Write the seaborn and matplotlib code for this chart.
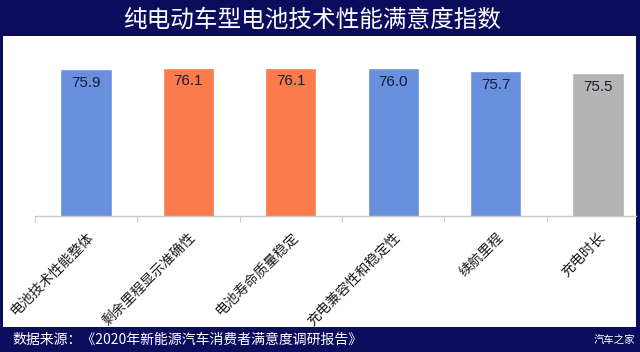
import matplotlib
matplotlib.use("Agg")
import matplotlib.pyplot as plt
from matplotlib.patches import Rectangle
import seaborn as sns
import pandas as pd

categories = ["电池技术性能整体", "剩余里程显示准确性", "电池寿命质量稳定",
              "充电兼容性和稳定性", "续航里程", "充电时长"]
scores = [75.9, 76.1, 76.1, 76.0, 75.7, 75.5]
bar_colors = ["#6890dd", "#fb7b4b", "#fb7b4b", "#6890dd", "#6890dd", "#b4b4b4"]

title = "纯电动车型电池技术性能满意度指数"
source = "数据来源：《2020年新能源汽车消费者满意度调研报告》"
watermark = "汽车之家"

sns.set_theme(style="white")
plt.rcParams["font.family"] = ["Noto Sans CJK SC", "DejaVu Sans"]

navy = "#0c0c5c"
W, H = 640, 352
fig = plt.figure(figsize=(6.4, 3.52), dpi=100, facecolor=navy)

# white panel behind the chart
fig.patches.append(Rectangle((3 / W, 1 - 327 / H), 633 / W, 291 / H,
                             transform=fig.transFigure, facecolor="white",
                             edgecolor="none", zorder=-5))

left, right = 34.8 / W, 636 / W
bottom, top = 1 - 216 / H, 1 - 50 / H
ax = fig.add_axes([left, bottom, right - left, top - bottom])
ax.set_zorder(2)
ax.patch.set_alpha(0)

df = pd.DataFrame({"item": categories, "score": scores})
sns.barplot(data=df, x="item", y="score", hue="item", palette=bar_colors,
            width=0.5, saturation=1, legend=False, ax=ax)

ax.set_xlim(-0.5, -0.5 + (636 - 34.8) / 102.4)
ax.set_ylim(60, 78)
ax.set_xlabel("")
ax.set_ylabel("")
ax.set_yticks([])
for s in ["left", "top", "right"]:
    ax.spines[s].set_visible(False)
ax.spines["bottom"].set_color("#c8c8c8")
ax.spines["bottom"].set_linewidth(1)

ax.set_xticks(range(len(categories)))
ax.set_xticklabels(categories, rotation=45, ha="right", va="top",
                   rotation_mode="anchor", fontsize=10, color="#1a1a1a")
ax.set_xticks([i - 0.5 for i in range(len(categories))], minor=True)
ax.tick_params(axis="x", which="major", length=0, pad=10)
ax.tick_params(axis="x", which="minor", length=4, width=0.8, color="#c8c8c8",
               direction="out", bottom=True)

for c in ax.containers:
    ax.bar_label(c, fmt="%.1f", padding=-15, fontsize=11,
                 color="#1b1b3b", family=["Liberation Sans", "DejaVu Sans"])

fig.text(312 / W, 1 - 20 / H, title, color="white", fontsize=17,
         ha="center", va="center")
fig.text(12 / W, 1 - 340 / H, source, color="white", fontsize=10,
         ha="left", va="center")
fig.text(635 / W, 1 - 341 / H, watermark, color="white", fontsize=7.5,
         ha="right", va="center")

fig.savefig("out.png", dpi=100, facecolor=navy)
